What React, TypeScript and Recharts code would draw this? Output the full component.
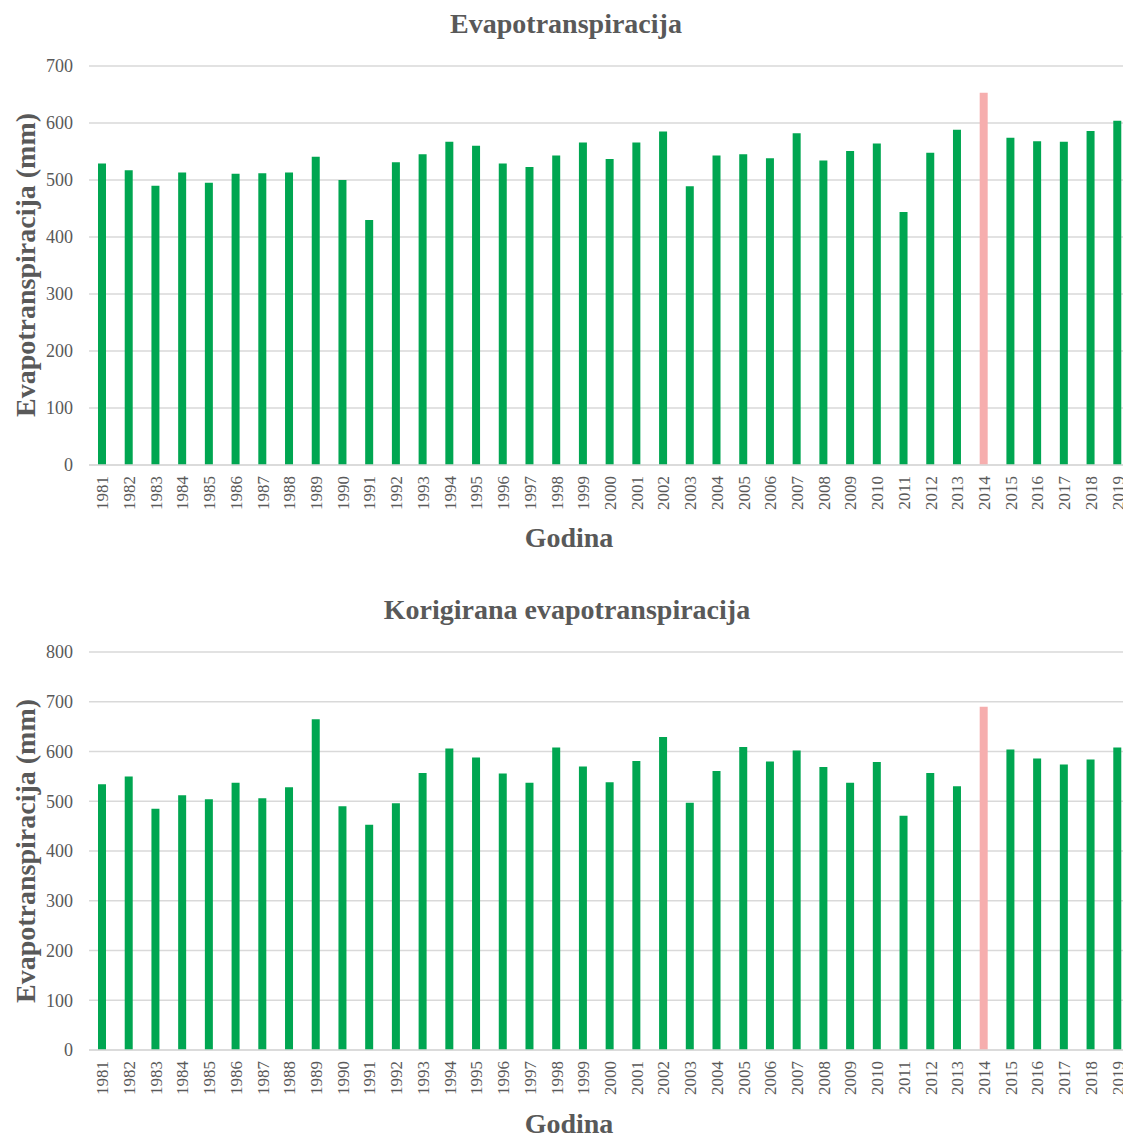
import React from 'react';
import { BarChart, Bar, XAxis, YAxis, CartesianGrid, Cell } from 'recharts';

const years = [
  '1981', '1982', '1983', '1984', '1985', '1986', '1987', '1988', '1989', '1990',
  '1991', '1992', '1993', '1994', '1995', '1996', '1997', '1998', '1999', '2000',
  '2001', '2002', '2003', '2004', '2005', '2006', '2007', '2008', '2009', '2010',
  '2011', '2012', '2013', '2014', '2015', '2016', '2017', '2018', '2019',
];

const evapotranspiration = [
  529, 517, 490, 513, 495, 511, 512, 513, 541, 500,
  430, 531, 545, 567, 560, 529, 523, 543, 566, 537,
  566, 585, 489, 543, 545, 538, 582, 534, 551, 564,
  444, 548, 588, 653, 574, 568, 567, 586, 604,
];

const correctedEvapotranspiration = [
  534, 550, 485, 512, 504, 537, 506, 528, 665, 490,
  453, 496, 557, 606, 588, 556, 537, 608, 570, 538,
  581, 629, 497, 561, 609, 580, 602, 569, 537, 579,
  471, 557, 530, 690, 604, 586, 574, 584, 608,
];

const topTicks = [0, 100, 200, 300, 400, 500, 600, 700];
const bottomTicks = [0, 100, 200, 300, 400, 500, 600, 700, 800];
const highlightYear = '2014';

const topTitle = 'Evapotranspiracija';
const bottomTitle = 'Korigirana evapotranspiracija';
const yLabel = 'Evapotranspiracija (mm)';
const xLabel = 'Godina';

const GREEN = '#00A651';
const PINK = '#F6AEAE';
const TEXT = '#595959';
const GRID = '#D9D9D9';
const FONT = '"Liberation Serif", "Times New Roman", serif';

function XTick(props: any) {
  const { x, y, payload } = props;
  return (
    <g transform={`translate(${x},${y})`}>
      <text
        transform="rotate(-90)"
        x={-11}
        y={0}
        dy="0.35em"
        textAnchor="end"
        fill={TEXT}
        fontSize={17}
        fontFamily={FONT}
      >
        {payload.value}
      </text>
    </g>
  );
}

function Panel(props: { top: number; height: number; bottom: number; values: number[]; ticks: number[]; max: number }) {
  const { top, height, bottom, values, ticks, max } = props;
  const data = years.map((year, i) => ({ year, value: values[i] }));
  return (
    <div style={{ position: 'absolute', left: 0, top, width: 1140, height }}>
      <BarChart width={1140} height={height} data={data} margin={{ top: 66, right: 9, bottom, left: 0 }}>
        <CartesianGrid horizontal vertical={false} stroke={GRID} strokeWidth={1.3} />
        <XAxis
          dataKey="year"
          interval={0}
          tick={<XTick />}
          tickLine={false}
          tickSize={0}
          tickMargin={0}
          axisLine={{ stroke: GRID, strokeWidth: 1.3 }}
          height={50}
        />
        <YAxis
          type="number"
          domain={[0, max]}
          ticks={ticks}
          interval={0}
          width={89}
          tickLine={false}
          axisLine={false}
          tickSize={0}
          tickMargin={16}
          tick={{ fill: TEXT, fontSize: 18, fontFamily: FONT }}
        />
        <Bar dataKey="value" barSize={8} isAnimationActive={false}>
          {data.map((d) => (
            <Cell key={d.year} fill={d.year === highlightYear ? PINK : GREEN} />
          ))}
        </Bar>
      </BarChart>
    </div>
  );
}

export default function App() {
  const labelStyle = { fill: TEXT, fontFamily: FONT, fontWeight: 700 as const };
  return (
    <div style={{ position: 'absolute', left: 0, top: 0, width: 1123, height: 1137, overflow: 'hidden', background: '#fff' }}>
      <Panel top={0} height={570} bottom={55} values={evapotranspiration} ticks={topTicks} max={700} />
      <Panel top={586} height={551} bottom={37} values={correctedEvapotranspiration} ticks={bottomTicks} max={800} />
      <svg width={1123} height={1137} style={{ position: 'absolute', left: 0, top: 0, pointerEvents: 'none' }}>
        <text x={566} y={33} textAnchor="middle" fontSize={28} {...labelStyle}>{topTitle}</text>
        <text x={569} y={547} textAnchor="middle" fontSize={28} {...labelStyle}>{xLabel}</text>
        <g transform="translate(25,265)">
          <text transform="rotate(-90)" x={0} y={0} dy="0.35em" textAnchor="middle" fontSize={28} {...labelStyle}>{yLabel}</text>
        </g>
        <text x={567} y={619} textAnchor="middle" fontSize={28} {...labelStyle}>{bottomTitle}</text>
        <text x={569} y={1133} textAnchor="middle" fontSize={28} {...labelStyle}>{xLabel}</text>
        <g transform="translate(25,851)">
          <text transform="rotate(-90)" x={0} y={0} dy="0.35em" textAnchor="middle" fontSize={28} {...labelStyle}>{yLabel}</text>
        </g>
      </svg>
    </div>
  );
}
